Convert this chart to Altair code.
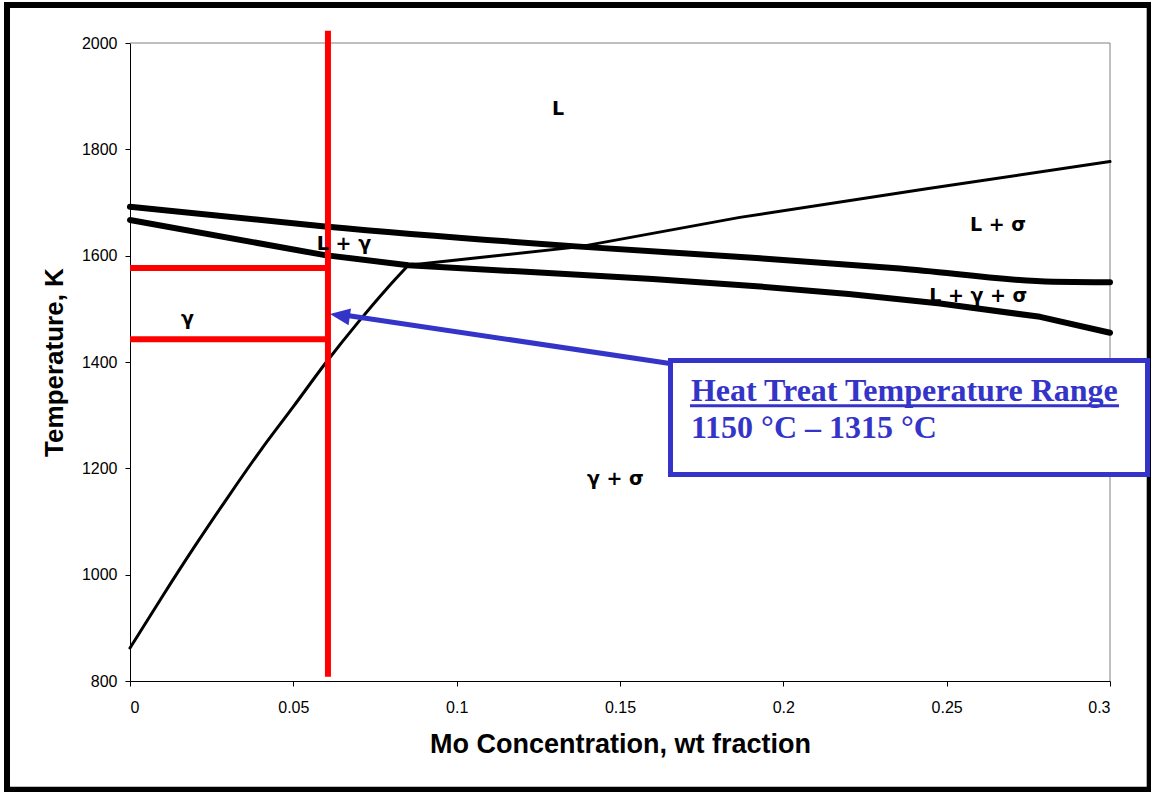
import altair as alt
import pandas as pd

# Phase boundaries: Mo weight fraction vs temperature (K)
upper_x = [0.0, 0.0597, 0.1377, 0.1929, 0.2357, 0.2826, 0.3]
upper_T = [1692, 1655, 1617, 1595, 1576, 1551, 1550]

lower_x = [0.0, 0.0597, 0.0852, 0.12, 0.16, 0.1929, 0.22, 0.248, 0.2786, 0.3]
lower_T = [1667, 1601, 1582, 1570, 1556, 1542, 1528, 1510, 1485, 1455]

# gamma solvus up to the three-phase point
solvus_x = [0.0, 0.01, 0.02, 0.03, 0.04, 0.05, 0.06, 0.07, 0.0786, 0.0852]
solvus_T = [862, 960, 1055, 1146, 1234, 1316, 1399, 1476, 1538, 1582]

# sigma boundary above the three-phase point
sigma_x = [0.0852, 0.1378, 0.1867, 0.2439, 0.3]
sigma_T = [1582, 1617, 1672, 1726, 1777]

# Alloy composition and heat-treatment window
ht_x = 0.0606
ht_T_low = 1443
ht_T_high = 1577
ht_T_span = [808, 2023]

# Phase-field labels
region_labels = ["L", "L + σ", "L + γ", "L + γ + σ", "γ", "γ + σ"]
region_x = [0.1310, 0.2657, 0.0655, 0.2597, 0.0176, 0.1486]
region_T = [1865, 1647, 1611, 1512, 1470, 1169]

x_ticks = [0, 0.05, 0.1, 0.15, 0.2, 0.25, 0.3]
y_ticks = [800, 1000, 1200, 1400, 1600, 1800, 2000]

# Callout box, arrow and caption (data units)
callout_lines = ["Heat Treat Temperature Range", "1150 °C – 1315 °C"]
callout_text_x = 0.1717
callout_text_T = [1326.6, 1257.0]
callout_box = dict(x=0.16546, x2=0.31148, T=1402.8, T2=1188.4)
underline = dict(x=0.17143, x2=0.30275, T=1317.6)
arrow_tail = dict(x=0.16531, T=1397.2)
arrow_neck = dict(x=0.06500, T=1489.0)
arrow_tip = dict(x=0.06122, T=1490.3)

BLUE = "#3434C8"
SANS = "Liberation Sans"
SERIF = "Liberation Serif"
LABEL_FONT = "DejaVu Sans"

xs = alt.Scale(domain=[0, 0.3], nice=False, zero=False)
ys = alt.Scale(domain=[800, 2000], nice=False, zero=False)

x_axis = alt.Axis(values=x_ticks, format=".2~f", title="Mo Concentration, wt fraction",
                  titleFontSize=27, titleY=71, titleBaseline="alphabetic", labelPadding=13)
y_axis = alt.Axis(values=y_ticks, format="d", title="Temperature, K",
                  titleFontSize=26, titleX=-68, titleY=319, titleBaseline="alphabetic",
                  titleAlign="center", labelPadding=8)


def X(field="x"):
    return alt.X(f"{field}:Q", scale=xs, axis=x_axis)


def Y(field="T"):
    return alt.Y(f"{field}:Q", scale=ys, axis=y_axis)


one = pd.DataFrame({"k": [0]})

# Page frame around the whole figure
frame = alt.Chart(one).mark_rect(filled=False, stroke="black", strokeWidth=6).encode(
    x=alt.value(-123), x2=alt.value(1019.7), y=alt.value(-38), y2=alt.value(746.7)
)

# Grey top / right edges of the plot area
border_df = pd.DataFrame({"x": [0.0, 0.3], "T": [2000, 800], "x2": [0.3, 0.3], "T2": [2000, 2000]})
border = alt.Chart(border_df).mark_rule(color="#808080", strokeWidth=1).encode(
    x=X(), y=Y(), x2="x2:Q", y2="T2:Q"
)


def boundary(xv, tv, width, interp="linear"):
    df = pd.DataFrame({"x": xv, "T": tv, "i": range(len(xv))})
    return alt.Chart(df).mark_line(color="black", strokeWidth=width, strokeJoin="round",
                                   strokeCap="round", interpolate=interp).encode(
        x=X(), y=Y(), order="i:Q")


upper = boundary(upper_x, upper_T, 6, "monotone")
lower = boundary(lower_x, lower_T, 6)
solvus = boundary(solvus_x, solvus_T, 3, "monotone")
sigma = boundary(sigma_x, sigma_T, 3)

# Heat-treatment markers
red_v = alt.Chart(pd.DataFrame({"x": [ht_x], "T": [ht_T_span[0]], "T2": [ht_T_span[1]]})).mark_rule(
    color="#FF0000", strokeWidth=6).encode(x=X(), y=Y(), y2="T2:Q")
red_h = alt.Chart(pd.DataFrame({"x": [0.0, 0.0], "x2": [ht_x, ht_x], "T": [ht_T_high, ht_T_low]})).mark_rule(
    color="#FF0000", strokeWidth=6).encode(x=X(), x2="x2:Q", y=Y())

labels = alt.Chart(pd.DataFrame({"x": region_x, "T": region_T, "label": region_labels})).mark_text(
    font=LABEL_FONT, fontSize=19, fontWeight="bold", color="black", align="center", baseline="alphabetic"
).encode(x=X(), y=Y(), text="label:N")

shaft = alt.Chart(pd.DataFrame({"x": [arrow_tail["x"]], "T": [arrow_tail["T"]],
                                "x2": [arrow_neck["x"]], "T2": [arrow_neck["T"]]})).mark_rule(
    color=BLUE, strokeWidth=5).encode(x=X(), y=Y(), x2="x2:Q", y2="T2:Q")

head = alt.Chart(pd.DataFrame({"x": [arrow_tip["x"]], "T": [arrow_tip["T"]]})).mark_point(
    shape="M0,0L2,-0.85L2,0.85Z", filled=True, size=400, angle=8.3, color=BLUE, opacity=1, strokeWidth=0
).encode(x=X(), y=Y())

box = alt.Chart(pd.DataFrame({"x": [callout_box["x"]], "x2": [callout_box["x2"]],
                              "T": [callout_box["T"]], "T2": [callout_box["T2"]]})).mark_rect(
    fill="white", stroke=BLUE, strokeWidth=5).encode(x=X(), x2="x2:Q", y=Y(), y2="T2:Q")

caption = alt.Chart(pd.DataFrame({"x": [callout_text_x] * 2, "T": callout_text_T, "label": callout_lines})).mark_text(
    font=SERIF, fontSize=32, fontWeight="bold", color=BLUE, align="left", baseline="alphabetic"
).encode(x=X(), y=Y(), text="label:N")

uline = alt.Chart(pd.DataFrame({"x": [underline["x"]], "x2": [underline["x2"]], "T": [underline["T"]]})).mark_rule(
    color=BLUE, strokeWidth=3).encode(x=X(), x2="x2:Q", y=Y())

chart = alt.layer(
    frame, border, upper, lower, solvus, sigma, red_h, red_v, labels, shaft, box, caption, uline, head
).properties(
    width=980, height=638,
    autosize=alt.AutoSizeParams(type="none"),
    padding={"left": 130, "top": 43, "right": 41, "bottom": 111},
    background="white",
).configure_view(strokeWidth=0).configure_axis(
    grid=False, domainColor="black", domainWidth=1, tickColor="black", tickSize=5, tickWidth=1,
    labelFont=SANS, labelFontSize=16, labelColor="black",
    titleFont=SANS, titleFontWeight="bold", titleColor="black",
)

chart.save("out.html", embed_options={"renderer": "svg", "actions": False})
